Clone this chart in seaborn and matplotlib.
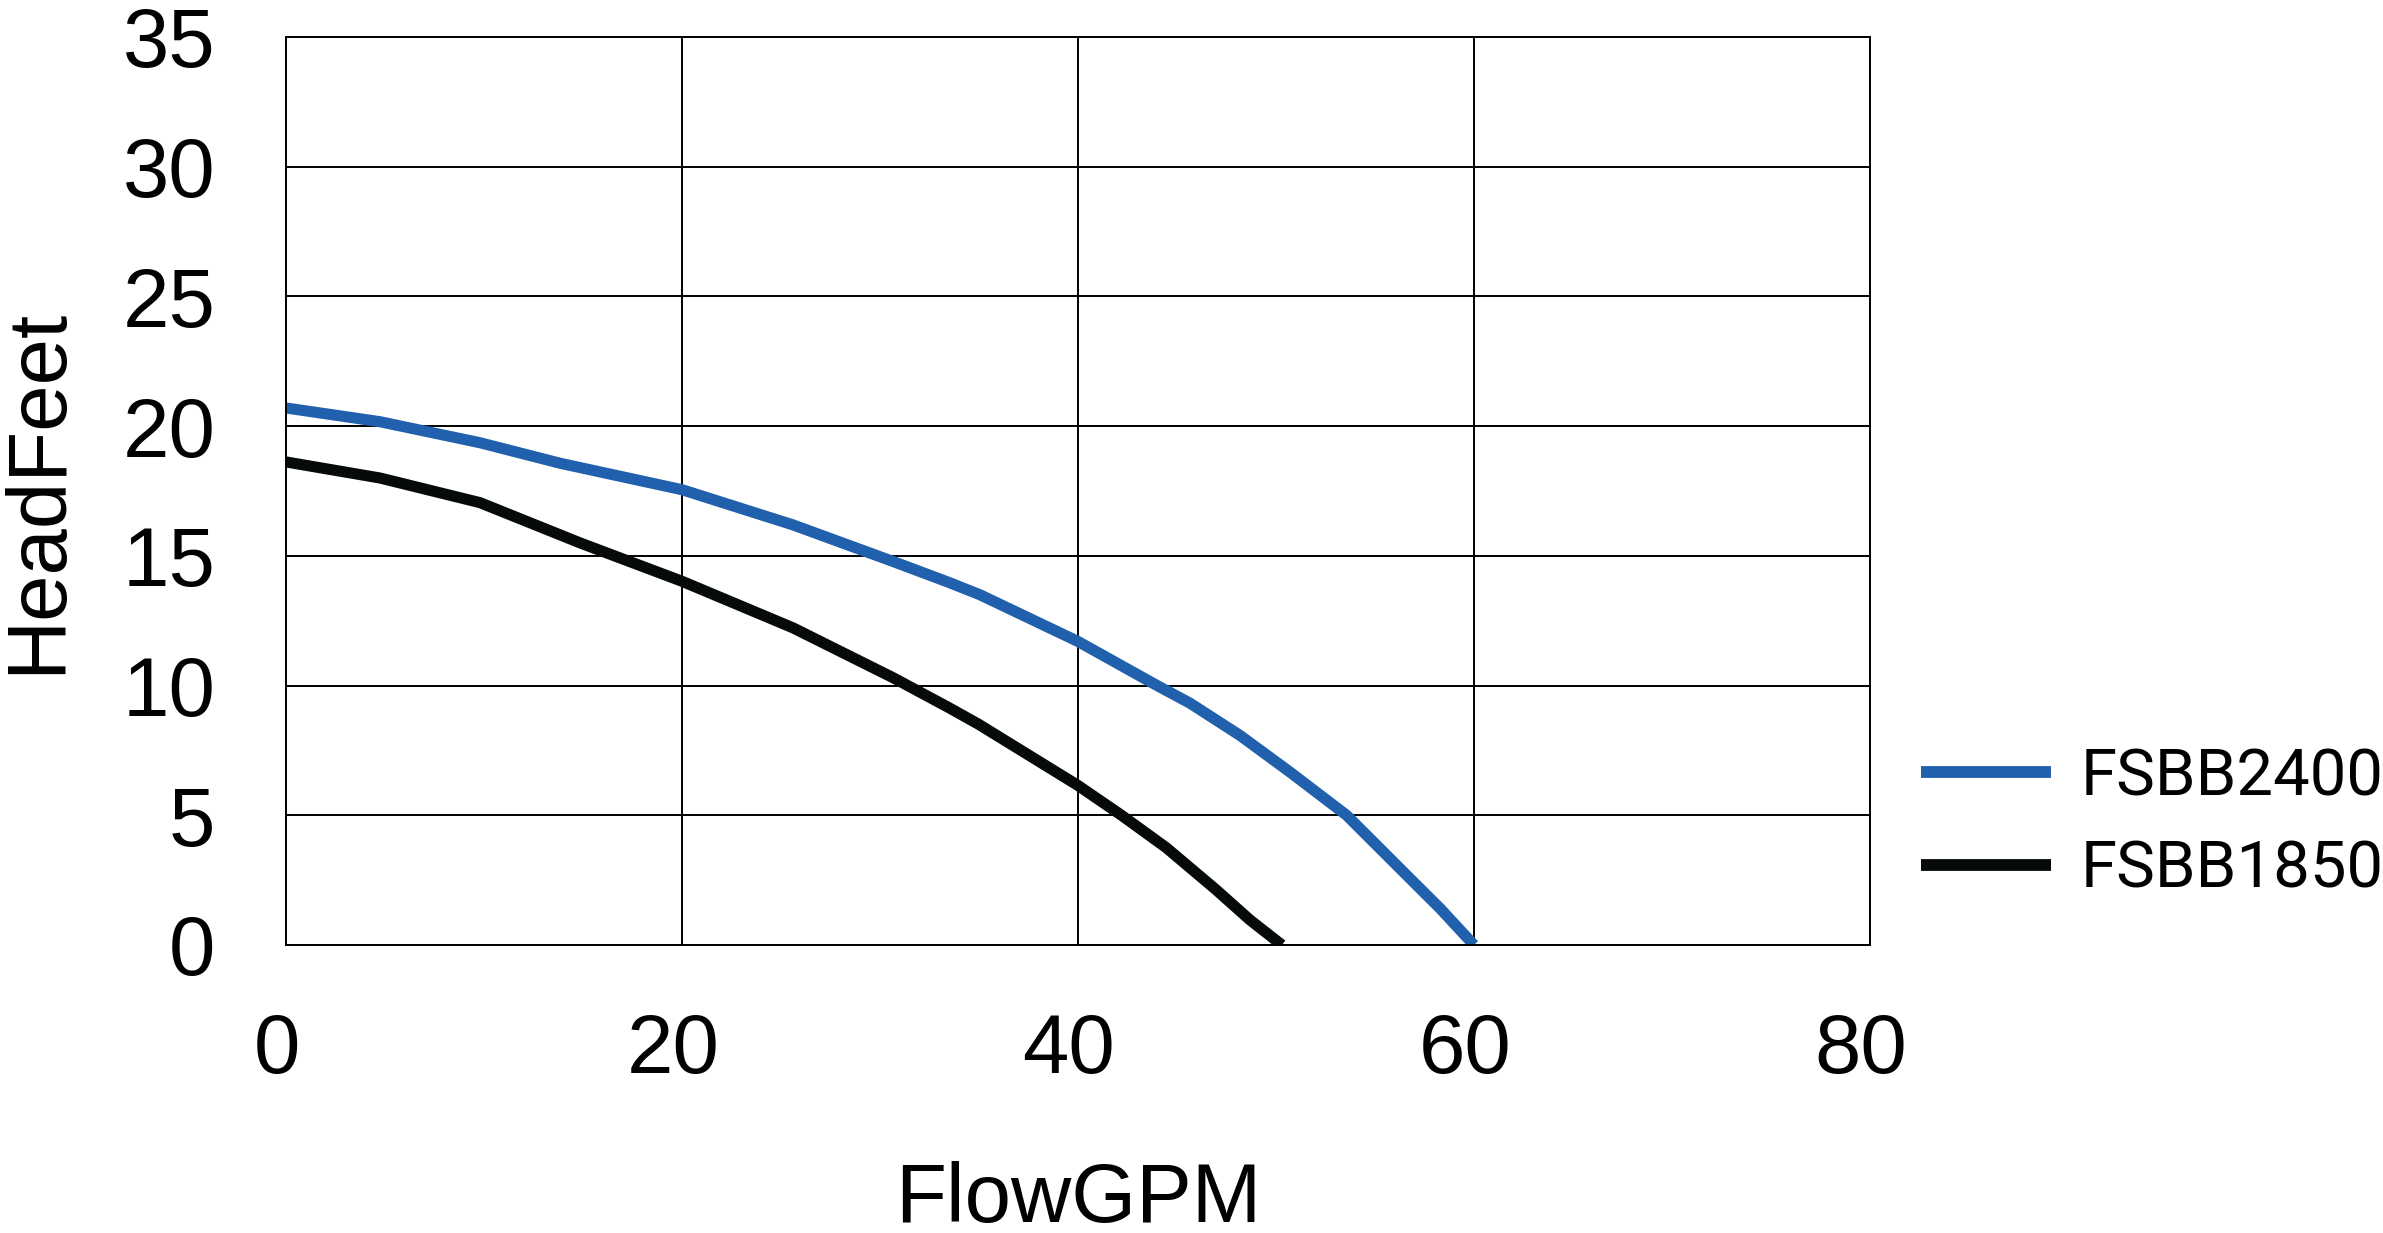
import pandas as pd
import numpy as np
import matplotlib
matplotlib.use('Agg')
import matplotlib.pyplot as plt
import matplotlib.transforms as mtransforms
import seaborn as sns

# Pump curves
flow_2400 = [0, 4.75, 9.8, 13.84, 20, 25.62, 30.67, 33.5, 35.05, 40, 44.0,
             45.66, 48.18, 50.7, 53.57, 56.26, 58.3, 60]
head_2400 = [20.7, 20.17, 19.36, 18.57, 17.55, 16.19, 14.78, 13.97, 13.5, 11.7, 10.0,
             9.32, 8.08, 6.67, 5.0, 2.95, 1.4, 0]
flow_1850 = [0, 4.75, 9.8, 14.85, 20, 25.62, 30.67, 33.5, 35, 40, 42.2,
             44.46, 46.99, 48.68, 50.3]
head_1850 = [18.62, 18.0, 17.05, 15.5, 14.02, 12.22, 10.3, 9.14, 8.5, 6.15, 5.0,
             3.75, 2.12, 0.97, 0]
models = ['FSBB2400', 'FSBB1850']
colors = ['#2160ad', '#070a0b']
x_ticks = [0, 20, 40, 60, 80]
y_ticks = [0, 5, 10, 15, 20, 25, 30, 35]

df = pd.concat([
    pd.DataFrame({'Flow': flow_2400, 'Head': head_2400, 'Model': models[0]}),
    pd.DataFrame({'Flow': flow_1850, 'Head': head_1850, 'Model': models[1]}),
])

sns.set_style('white')
plt.rcParams['font.family'] = ['Liberation Sans', 'DejaVu Sans']
plt.rcParams['text.color'] = 'black'
plt.rcParams['axes.labelcolor'] = 'black'

fig = plt.figure(figsize=(23.83, 12.33), dpi=100)
ax = fig.add_axes([0.12, 0.2336, 0.6647, 0.7364])

sns.lineplot(data=df, x='Flow', y='Head', hue='Model', hue_order=models,
             palette=dict(zip(models, colors)), sort=False, estimator=None,
             linewidth=8, solid_capstyle='butt', solid_joinstyle='round', ax=ax)

ax.set_xlim(0, 80)
ax.set_ylim(0, 35)
ax.set_xticks(x_ticks)
ax.set_yticks(y_ticks)
ax.grid(True, color='black', linewidth=1.4)
ax.set_axisbelow(True)
for s in ax.spines.values():
    s.set_visible(True)
    s.set_color('black')
    s.set_linewidth(1.4)

ax.tick_params(axis='both', direction='out', length=19, width=1.4,
               color='black', labelsize=60, labelcolor='black')
ax.tick_params(axis='x', pad=29)
ax.tick_params(axis='y', pad=32)

# x tick labels sit a little left of their ticks in the original
shift = mtransforms.ScaledTranslation(-9 / 100, 0, fig.dpi_scale_trans)
for lbl in ax.get_xticklabels():
    lbl.set_transform(lbl.get_transform() + shift)

ax.set_xlabel('FlowGPM', fontsize=60)
ax.set_ylabel('HeadFeet', fontsize=60)
ax.xaxis.set_label_coords(0.5, -0.238)
ax.yaxis.set_label_coords(-0.132, 0.5)

leg = ax.legend(loc='center left', bbox_to_anchor=(0.806, 0.332),
                bbox_transform=fig.transFigure, frameon=False,
                borderpad=0, borderaxespad=0, handlelength=2.0,
                handletextpad=0.45, labelspacing=0.47,
                prop={'family': 'Roboto', 'size': 47})
for h in leg.get_lines():
    h.set_linewidth(8.5)

fig.savefig('out.png', dpi=100)
